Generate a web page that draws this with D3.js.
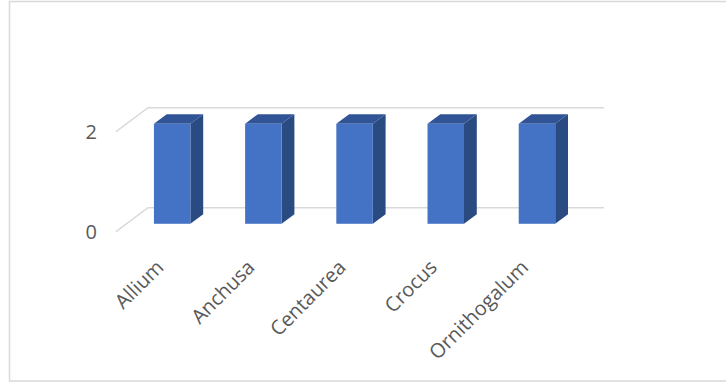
<!DOCTYPE html>
<html>
<head>
<meta charset="utf-8">
<script src="https://cdn.jsdelivr.net/npm/d3@7"></script>
<style>
  body { margin: 0; background: #fff; }
  text { font-family: "Open Sans", sans-serif; fill: #595959; }
</style>
</head>
<body>
<div id="chart"></div>
<script>
// data
let categories = ["Allium", "Anchusa", "Centaurea", "Crocus", "Ornithogalum"];
let values = [2, 2, 2, 2, 2];
let tickValues = [0, 2];

let width = 726;
let height = 385;

// front plane of the 3d box and the depth vector
let left = 116, right = 572;
let depthX = 32, depthY = -24;
// bars sit between these fractions of the depth
let d0 = 0.33, d1 = 0.73;

let svg = d3.select("#chart")
  .append("svg")
  .attr("width", width).attr("height", height);

// outer chart frame
svg.append("rect")
  .attr("x", 9.5).attr("y", 1.5)
  .attr("width", 740).attr("height", 379.5)
  .attr("fill", "none")
  .attr("stroke", "#d9d9d9")
  .attr("stroke-width", 1.5);

let xScale = d3.scaleBand()
  .domain(categories)
  .range([left, right])
  .paddingInner(0.6)
  .paddingOuter(0.3);

let yScale = d3.scaleLinear()
  .domain([0, 2])
  .range([231.7, 131.7]);

// gridlines: floor edge on the left, then along the back wall
svg.append("g")
  .selectAll("path")
  .data(tickValues)
  .enter()
  .append("path")
  .attr("d", function(d) {
    let y = yScale(d);
    return d3.line()([[left, y], [left + depthX, y + depthY], [right + depthX, y + depthY]]);
  })
  .attr("fill", "none")
  .attr("stroke", "#d9d9d9")
  .attr("stroke-width", 1.5);

// tick labels
svg.append("g")
  .selectAll("text")
  .data(tickValues)
  .enter()
  .append("text")
  .attr("x", 97)
  .attr("y", function(d) { return yScale(d); })
  .attr("dy", "0.36em")
  .attr("text-anchor", "end")
  .style("font-size", "20px")
  .text(function(d) { return d; });

// 3d bars
let bars = svg.append("g")
  .selectAll("g")
  .data(categories)
  .enter()
  .append("g");

function corners(d, i) {
  let x0 = xScale(d) + depthX * d0;
  let x1 = x0 + xScale.bandwidth();
  let yb = yScale(0) + depthY * d0;
  let yt = yScale(values[i]) + depthY * d0;
  let ox = depthX * (d1 - d0), oy = depthY * (d1 - d0);
  return { x0: x0, x1: x1, yb: yb, yt: yt, ox: ox, oy: oy };
}

// side face
bars.append("path")
  .attr("d", function(d, i) {
    let c = corners(d, i);
    return d3.line()([[c.x1, c.yb], [c.x1, c.yt], [c.x1 + c.ox, c.yt + c.oy], [c.x1 + c.ox, c.yb + c.oy]]) + "Z";
  })
  .attr("fill", "#2a4a82");

// top face
bars.append("path")
  .attr("d", function(d, i) {
    let c = corners(d, i);
    return d3.line()([[c.x0, c.yt], [c.x1, c.yt], [c.x1 + c.ox, c.yt + c.oy], [c.x0 + c.ox, c.yt + c.oy]]) + "Z";
  })
  .attr("fill", "#305496");

// front face
bars.append("rect")
  .attr("x", function(d, i) { return corners(d, i).x0; })
  .attr("y", function(d, i) { return corners(d, i).yt; })
  .attr("width", xScale.bandwidth())
  .attr("height", function(d, i) { let c = corners(d, i); return c.yb - c.yt; })
  .attr("fill", "#4472c4");

// rotated category labels
svg.append("g")
  .selectAll("text")
  .data(categories)
  .enter()
  .append("text")
  .attr("transform", function(d) {
    let cx = xScale(d) + xScale.bandwidth() / 2 + depthX * d0;
    return "translate(" + (cx - 18) + ",258) rotate(-45)";
  })
  .attr("text-anchor", "end")
  .attr("dy", "0.75em")
  .style("font-size", "20px")
  .text(function(d) { return d; });
</script>
</body>
</html>
